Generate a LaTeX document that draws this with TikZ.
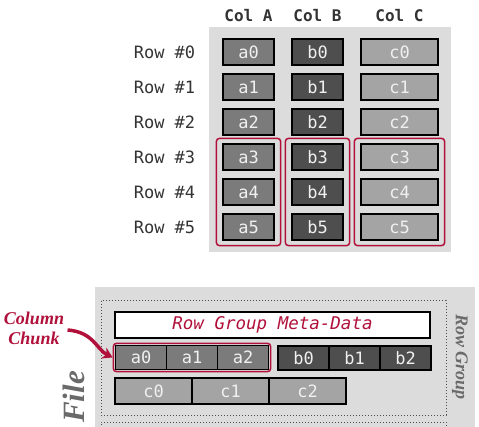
\documentclass[tikz,border=0pt]{standalone}
\usepackage{fontspec}
\setmainfont{Liberation Serif}
\setmonofont{DejaVu Sans Mono}
\usetikzlibrary{fit,arrows.meta}

\definecolor{cmured}{HTML}{B0103A}
\definecolor{panelgray}{HTML}{DCDCDC}
\definecolor{agray}{HTML}{7B7B7B}
\definecolor{bgray}{HTML}{4E4E4E}
\definecolor{cgray}{HTML}{A4A4A4}
\definecolor{labelgray}{HTML}{6A6A6A}

\tikzset{
  cellbox/.style={draw=black, line width=1.2pt, inner sep=0pt, minimum height=26pt,
    text=white!94!black, font=\ttfamily\fontsize{17}{17}\selectfont},
  acell/.style={cellbox, fill=agray, minimum width=51pt},
  bcell/.style={cellbox, fill=bgray, minimum width=51pt},
  ccell/.style={cellbox, fill=cgray, minimum width=77pt},
  rowlabel/.style={font=\ttfamily\fontsize{17}{17}\selectfont, text=black!80},
  collabel/.style={font=\ttfamily\bfseries\fontsize{16}{16}\selectfont, text=black!80},
  chunkbox/.style={draw=cmured, line width=1.5pt, rounded corners=3pt},
  groupbox/.style={draw=black!70, line width=1pt, dotted},
}

\begin{document}
\begin{tikzpicture}[x=1pt, y=-1pt]
    	\clip (0,0) rectangle (479,427);
    	\fill[panelgray] (209,27) rectangle (451,252);
    	\fill[panelgray] (95,287) rectangle (475,427);
    	% table
    	\node[collabel] (colA) at (248.5,16) {Col A};
    	\node[collabel] (colB) at (317.5,16) {Col B};
    	\node[collabel] (colC) at (399.5,16) {Col C};
    	\node[rowlabel] (row0) at (164.5,52) {Row \#0};
    	\node[rowlabel] (row1) at (164.5,87) {Row \#1};
    	\node[rowlabel] (row2) at (164.5,122) {Row \#2};
    	\node[rowlabel] (row3) at (164.5,157) {Row \#3};
    	\node[rowlabel] (row4) at (164.5,192) {Row \#4};
    	\node[rowlabel] (row5) at (164.5,227) {Row \#5};
    	\node[acell] (a0) at (248.5,52) {a0};
    	\node[acell] (a1) at (248.5,87) {a1};
    	\node[acell] (a2) at (248.5,122) {a2};
    	\node[acell] (a3) at (248.5,157) {a3};
    	\node[acell] (a4) at (248.5,192) {a4};
    	\node[acell] (a5) at (248.5,227) {a5};
    	\node[bcell] (b0) at (317.5,52) {b0};
    	\node[bcell] (b1) at (317.5,87) {b1};
    	\node[bcell] (b2) at (317.5,122) {b2};
    	\node[bcell] (b3) at (317.5,157) {b3};
    	\node[bcell] (b4) at (317.5,192) {b4};
    	\node[bcell] (b5) at (317.5,227) {b5};
    	\node[ccell] (c0) at (399.5,52) {c0};
    	\node[ccell] (c1) at (399.5,87) {c1};
    	\node[ccell] (c2) at (399.5,122) {c2};
    	\node[ccell] (c3) at (399.5,157) {c3};
    	\node[ccell] (c4) at (399.5,192) {c4};
    	\node[ccell] (c5) at (399.5,227) {c5};
    	\node[chunkbox, fit=(a3)(a5), inner xsep=6pt, inner ysep=5pt] (groupA) {};
    	\node[chunkbox, fit=(b3)(b5), inner xsep=6pt, inner ysep=5pt] (groupB) {};
    	\node[chunkbox, fit=(c3)(c5), inner xsep=6pt, inner ysep=5pt] (groupC) {};
    	% file layout
    	\draw[groupbox] (101,301) rectangle (446,415);
    	\draw[groupbox] (101,440) -- (101,422) -- (446,422) -- (446,440);
    	\node[cellbox, fill=white, minimum width=315pt, text=cmured,
    	  font=\ttfamily\itshape\fontsize{17.5}{17.5}\selectfont] (meta) at (272.5,325) {Row Group Meta-Data};
    	\node[acell, minimum height=24pt] (fa0) at (141,357.5) {a0};
    	\node[acell, minimum height=24pt] (fa1) at (192,357.5) {a1};
    	\node[acell, minimum height=24pt] (fa2) at (243,357.5) {a2};
    	\node[bcell, minimum height=24pt] (fb0) at (303.5,358) {b0};
    	\node[bcell, minimum height=24pt] (fb1) at (354.5,358) {b1};
    	\node[bcell, minimum height=24pt] (fb2) at (405.5,358) {b2};
    	\node[ccell] (fc0) at (153.5,391) {c0};
    	\node[ccell] (fc1) at (230.5,391) {c1};
    	\node[ccell] (fc2) at (307.5,391) {c2};
    	\node[chunkbox, fit=(fa0)(fa2), inner sep=1.5pt] (chunkA) {};
    	\node[font=\bfseries\itshape\fontsize{18}{20}\selectfont, text=cmured, align=center] (chunklabel) at (34,328) {Column\\Chunk};
    	\draw[cmured, line width=3.5pt, -{Stealth[length=10pt,width=12pt]}]
    	  ([yshift=-2pt]chunklabel.east) .. controls +(26,2) and +(-16,-8) .. (chunkA.west);
    	\node[rotate=90, font=\bfseries\itshape\fontsize{31}{31}\selectfont, text=labelgray] (filelabel) at (74,397) {File};
    	\node[rotate=-90, font=\bfseries\itshape\fontsize{18}{18}\selectfont, text=labelgray] (grouplabel) at (460,357) {Row Group};
\end{tikzpicture}
\end{document}
